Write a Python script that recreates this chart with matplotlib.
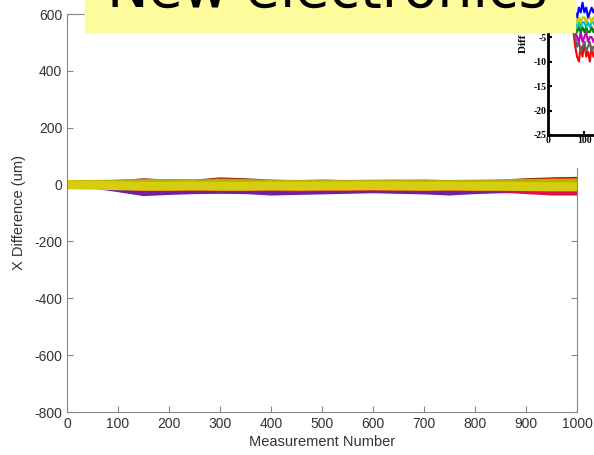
import numpy as np
import matplotlib.pyplot as plt
from matplotlib.patches import Rectangle

meas = [0, 50, 100, 150, 200, 250, 300, 350, 400, 450, 500,
        550, 600, 650, 700, 750, 800, 850, 900, 950, 1000]

brown = [5, 8, 8, 15, 10, 10, 18, 15, 10, 8, 10, 8, 6, 8, 10, 8, 8, 10, 15, 18, 20]
orange = [3, 5, 10, 12, 12, 10, 14, 12, 8, 5, 5, 4, 5, 6, 5, 4, 5, 8, 12, 12, 15]
red = [0, 2, 4, 6, 5, 4, 6, 5, 4, 3, 4, 3, 2, 3, 4, 3, 4, 6, 10, 16, 18]
magenta = [-3, -5, -15, -25, -22, -20, -20, -22, -22, -25, -22, -20, -20, -22, -20, -22, -22, -20, -22, -22, -20]
purple = [-5, -5, -18, -32, -28, -25, -24, -25, -30, -28, -26, -24, -22, -24, -26, -30, -25, -22, -22, -24, -22]
crimson = [-2, -4, -8, -14, -15, -14, -15, -16, -15, -18, -16, -15, -14, -15, -16, -14, -16, -18, -25, -30, -30]
olive = [2, 3, 4, 6, 5, 4, 6, 5, 4, 3, 4, 3, 4, 5, 4, 3, 4, 5, 6, 7, 8]
yellow = [-1, -2, -4, -6, -6, -5, -6, -6, -5, -6, -5, -5, -4, -5, -6, -5, -6, -6, -7, -8, -8]

main_series = [(brown, '#8a2a00', 3), (orange, '#ee7010', 3), (red, '#dd1a00', 3),
               (magenta, '#d010c8', 3.5), (purple, '#7020a0', 3.5), (crimson, '#e0104a', 3.5),
               (olive, '#b8b000', 5.5), (yellow, '#d6cc10', 6.5)]

# zoomed inset (only a sliver of it shows)
inset_x = [60, 65, 70, 75, 80, 85, 90, 95, 100, 105, 110, 115, 120, 125, 130]
inset_red = [-2, -3, -4, -7, -9, -10, -7, -9, -6, -9, -8, -10, -7, -9, -8]
inset_gray = [-2, -3, -4, -5, -7, -6, -8, -7, -6, -8, -7, -6, -8, -7, -7]
inset_magenta = [-1, -2, -3, -4, -5, -6, -4, -6, -5, -4, -6, -5, -5, -6, -5]
inset_green = [0, -1, -2, -3, -4, -3, -4, -3, -4, -3, -4, -4, -3, -4, -3]
inset_cyan = [1, 0, -1, -2, -3, -2, -3, -2, -2, -3, -2, -3, -2, -2, -3]
inset_yellow = [2, 1, 0, -1, -2, -1, -2, -1, -1, -2, -1, -1, -2, -1, -1]
inset_blue = [3, 2, 1, 0, -1, 1, 0, 2, 0, 1, -1, 0, 1, 0, 1]

inset_series = [(inset_red, 'red'), (inset_gray, '#606060'), (inset_magenta, 'm'),
                (inset_green, 'g'), (inset_cyan, 'c'), (inset_yellow, '#c8c800'),
                (inset_blue, 'b')]

W, H = 594, 455
plt.rcParams['font.family'] = ['Liberation Sans', 'DejaVu Sans']
plt.rcParams['axes.unicode_minus'] = False
fig = plt.figure(figsize=(W / 100, H / 100), dpi=100)

ax = fig.add_axes([67 / W, 43 / H, 510 / W, 398 / H])
for vals, col, lw in main_series:
    ax.plot(meas, vals, color=col, lw=lw, solid_capstyle='butt')
ax.set_xlim(0, 1000)
ax.set_ylim(-800, 600)
ax.set_xticks(np.arange(0, 1001, 100))
ax.set_yticks(np.arange(-800, 601, 200))
ax.tick_params(direction='in', top=True, right=True, labelsize=10,
               labelcolor='#333333', color='#888888', length=4)
for s in ax.spines.values():
    s.set_color('#888888')
ax.set_xlabel('Measurement Number', fontsize=10.5, color='#333333', labelpad=3)
ax.set_ylabel('X Difference (um)', fontsize=10.5, color='#333333', labelpad=6)

# white patch behind the inset hides the top right of the main plot
fig.patches.append(Rectangle((512 / W, 1 - 167 / H), (W - 512) / W, 167 / H,
                             transform=fig.transFigure, color='white', zorder=3))

ins = fig.add_axes([548 / W, 1 - 135 / H, 60 / W, 147 / H], zorder=4)
for vals, col in inset_series:
    ins.plot(inset_x, vals, color=col, lw=1.5)
ins.set_xlim(0, 165)
ins.set_ylim(-25, 5)
ins.set_xticks([0, 100])
ins.set_yticks([-25, -20, -15, -10, -5])
ins.tick_params(direction='in', labelsize=7, width=1.5, length=3, pad=1)
for lab in ins.get_xticklabels() + ins.get_yticklabels():
    lab.set_fontfamily('Liberation Serif')
    lab.set_fontweight('bold')
for s in ins.spines.values():
    s.set_linewidth(2)
ins.spines['top'].set_visible(False)
ins.spines['right'].set_visible(False)
fig.text(523 / W, 1 - 53 / H, 'Diff (um)', rotation=90, ha='center', va='bottom',
         fontsize=8, fontweight='bold', family='Liberation Serif', zorder=5)

# yellow title box on top of everything
fig.patches.append(Rectangle((85 / W, 1 - 32 / H), 490 / W, 32 / H,
                             transform=fig.transFigure, color='#fdfb9b', zorder=10))
fig.text(107 / W, 1 - 7 / H, 'New electronics', fontsize=40, color='black',
         family='DejaVu Sans', ha='left', va='baseline', zorder=11)

fig.savefig('out.png', dpi=100)
